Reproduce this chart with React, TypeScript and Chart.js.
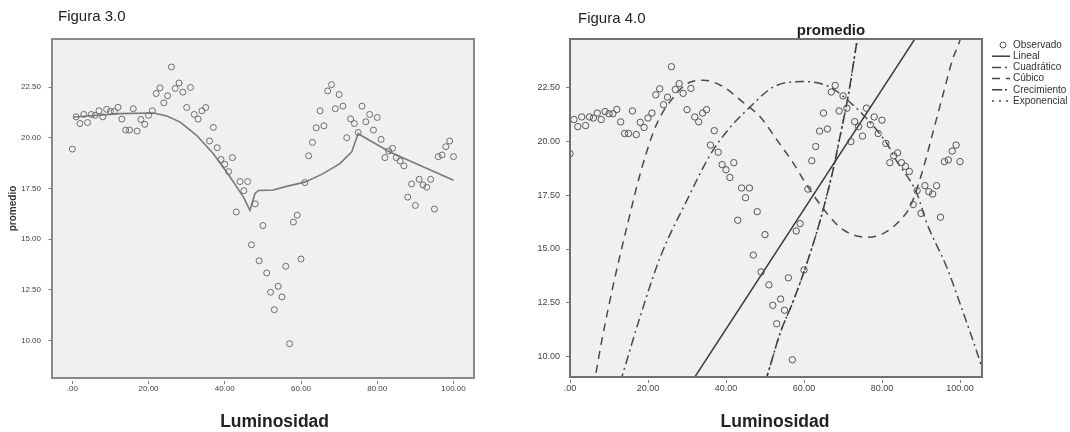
import React, { useEffect, useRef } from 'react';
import { Chart, registerables } from 'chart.js';

Chart.register(...registerables);

const FONT = '"Liberation Sans", Arial, Helvetica, sans-serif';
Chart.defaults.font.family = FONT;

// ---------- data ----------
const luminosidad = [
  0, 1, 2, 3, 4, 5, 6, 7, 8, 9, 10, 11, 12, 13, 14, 15, 16, 17, 18, 19,
  20, 21, 22, 23, 24, 25, 26, 27, 28, 29, 30, 31, 32, 33, 34, 35, 36, 37, 38, 39,
  40, 41, 42, 43, 44, 45, 46, 47, 48, 49, 50, 51, 52, 53, 54, 55, 56, 57, 58, 59,
  60, 61, 62, 63, 64, 65, 66, 67, 68, 69, 70, 71, 72, 73, 74, 75, 76, 77, 78, 79,
  80, 81, 82, 83, 84, 85, 86, 87, 88, 89, 90, 91, 92, 93, 94, 95, 96, 97, 98, 99, 100,
];
const promedio = [
  19.44, 21.03, 20.7, 21.15, 20.75, 21.15, 21.1, 21.33, 21.03, 21.4,
  21.3, 21.3, 21.5, 20.92, 20.38, 20.38, 21.43, 20.33, 20.9, 20.66,
  21.1, 21.33, 22.18, 22.46, 21.72, 22.07, 23.49, 22.43, 22.7, 22.25,
  21.49, 22.48, 21.15, 20.92, 21.33, 21.49, 19.84, 20.51, 19.51, 18.93,
  18.69, 18.33, 19.02, 16.34, 17.84, 17.39, 17.84, 14.72, 16.74, 13.93,
  15.67, 13.33, 12.38, 11.52, 12.67, 12.15, 13.66, 9.84, 15.84, 16.18,
  14.02, 17.79, 19.11, 19.77, 20.49, 21.33, 20.59, 22.31, 22.62, 21.43,
  22.13, 21.56, 20.0, 20.93, 20.7, 20.26, 21.56, 20.79, 21.15, 20.38,
  21.0, 19.92, 19.02, 19.34, 19.48, 19.02, 18.85, 18.61, 17.07, 17.72,
  16.66, 17.95, 17.67, 17.56, 17.95, 16.48, 19.07, 19.15, 19.56, 19.84, 19.07,
];

// Figura 3.0 smoothed line
const suavizadoX = [0.3, 6, 12.5, 21.3, 24.8, 28.3, 32.6, 37, 41.4, 44.9, 46.6, 47.9, 48.8, 52.7, 56.2, 61, 65.8, 70.2, 73.3, 74.2, 75.0, 83.3, 100];
const suavizadoY = [21.02, 21.1, 21.19, 21.22, 21.07, 20.77, 20.12, 19.21, 18.06, 17.07, 16.42, 17.24, 17.4, 17.42, 17.6, 17.81, 18.23, 18.72, 19.3, 19.79, 20.2, 19.3, 17.9];

// Figura 4.0 fitted curves
const linealX = [30, 90];
const linealY = [8.48, 25.22];
const cuadraticoX = [12.9, 13.35, 18.0, 23.2, 30.0, 36.0, 40.3, 46.2, 52.2, 59.6, 66.6, 72.3, 74.9, 78.7, 81.3, 83.4, 88.9, 91.5, 96.6, 100.9, 105.4, 106.2];
const cuadraticoY = [8.8, 9.07, 11.86, 14.65, 17.28, 19.4, 20.5, 21.62, 22.55, 22.8, 22.55, 21.75, 21.3, 20.53, 19.9, 19.2, 17.6, 16.2, 14.15, 12.0, 9.6, 9.1];
const cubicoX = [6.0, 6.5, 8.2, 11.2, 14.6, 18.5, 22.3, 26.6, 30.0, 34.3, 39.4, 43.7, 48.8, 53.1, 57.3, 60.8, 65.9, 70.1, 76.1, 80.4, 84.7, 87.2, 90.2, 93.2, 95.8, 98.3, 99.6, 101.0];
const cubicoY = [8.6, 9.07, 10.78, 13.41, 16.04, 18.83, 20.85, 22.08, 22.7, 22.86, 22.55, 21.93, 21.15, 20.07, 18.99, 17.95, 16.66, 15.89, 15.55, 15.73, 16.35, 16.97, 18.52, 20.53, 22.3, 23.95, 24.5, 25.4];
const crecimientoX = [50.0, 50.5, 53.9, 57.3, 60.3, 63.3, 65.0, 67.6, 69.3, 71.4, 73.7, 74.1];
const crecimientoY = [8.8, 9.07, 11.09, 12.6, 14.1, 15.8, 16.9, 18.8, 20.3, 22.2, 24.8, 25.2];
const exponencialX = [50.0, 50.5, 53.9, 57.3, 60.3, 63.3, 65.0, 67.6, 69.3, 71.4, 73.7, 74.1];
const exponencialY = [8.8, 9.07, 11.09, 12.6, 14.1, 15.8, 16.9, 18.8, 20.3, 22.2, 24.8, 25.2];

const xTickValues = [0, 20, 40, 60, 80, 100];
const xTickLabels = ['.00', '20.00', '40.00', '60.00', '80.00', '100.00'];
const yTickValues = [10, 12.5, 15, 17.5, 20, 22.5];
const yTickLabels = ['10.00', '12.50', '15.00', '17.50', '20.00', '22.50'];

const legendLabels = ['Observado', 'Lineal', 'Cuadrático', 'Cúbico', 'Crecimiento', 'Exponencial'];

// ---------- helpers ----------
const pts = (xs: number[], ys: number[]) => xs.map((x, i) => ({ x, y: ys[i] }));
const labelFor = (v: number, vals: number[], labels: string[]) => {
  const i = vals.findIndex((t) => Math.abs(t - v) < 1e-6);
  return i >= 0 ? labels[i] : '';
};

type ScaleCfg = {
  xMin: number; xMax: number; yMin: number; yMax: number;
  yAxisWidth: number; xAxisHeight: number; tickFont: number;
  yTickLen: number; yDash: number; yGap: number;
  yTitle?: string;
};

function makeScales(c: ScaleCfg): any {
  return {
    x: {
      type: 'linear',
      min: c.xMin,
      max: c.xMax,
      afterBuildTicks: (s: any) => { s.ticks = xTickValues.map((v) => ({ value: v })); },
      afterFit: (s: any) => { s.height = c.xAxisHeight; },
      ticks: {
        callback: (v: any) => labelFor(Number(v), xTickValues, xTickLabels),
        font: { size: c.tickFont },
        color: '#444',
        padding: 0,
        maxRotation: 0,
        autoSkip: false,
      },
      grid: {
        drawOnChartArea: false,
        drawTicks: true,
        tickLength: 6,
        tickBorderDash: [3, 3],
        tickBorderDashOffset: 3,
        tickColor: '#808080',
        tickWidth: 1,
      },
      border: { display: false },
    },
    y: {
      type: 'linear',
      min: c.yMin,
      max: c.yMax,
      afterBuildTicks: (s: any) => { s.ticks = yTickValues.map((v) => ({ value: v })); },
      afterFit: (s: any) => { s.width = c.yAxisWidth; },
      ticks: {
        callback: (v: any) => labelFor(Number(v), yTickValues, yTickLabels),
        font: { size: c.tickFont },
        color: '#444',
        padding: 1,
        autoSkip: false,
      },
      grid: {
        drawOnChartArea: false,
        drawTicks: true,
        tickLength: c.yTickLen,
        tickBorderDash: [c.yDash, c.yGap],
        tickBorderDashOffset: c.yDash,
        tickColor: '#808080',
        tickWidth: 1,
      },
      border: { display: false },
      title: c.yTitle
        ? { display: true, text: c.yTitle, font: { size: 10, weight: 'bold' }, color: '#333', padding: { top: 7, bottom: 0 } }
        : { display: false },
    },
  };
}

const framePlugin = (color: string, width: number) => ({
  id: 'frame',
  beforeDraw(chart: any) {
    const { ctx, chartArea } = chart;
    ctx.save();
    ctx.fillStyle = '#f0f0f0';
    ctx.fillRect(chartArea.left, chartArea.top, chartArea.width, chartArea.height);
    ctx.restore();
  },
  afterDatasetsDraw(chart: any) {
    const { ctx, chartArea } = chart;
    ctx.save();
    ctx.strokeStyle = color;
    ctx.lineWidth = width;
    ctx.strokeRect(chartArea.left, chartArea.top, chartArea.width, chartArea.height);
    ctx.restore();
  },
});

const sideLegendPlugin = {
  id: 'sideLegend',
  afterDraw(chart: any) {
    const { ctx, chartArea } = chart;
    const bx = chartArea.right;
    ctx.save();
    ctx.font = `10px ${FONT}`;
    ctx.textBaseline = 'middle';
    ctx.textAlign = 'left';
    chart.data.datasets.forEach((ds: any, i: number) => {
      const y = 45 + i * 11.2;
      if (i === 0) {
        ctx.setLineDash([]);
        ctx.strokeStyle = ds.pointBorderColor;
        ctx.lineWidth = 1;
        ctx.beginPath();
        ctx.arc(bx + 21, y, 3, 0, Math.PI * 2);
        ctx.stroke();
      } else {
        ctx.setLineDash(ds.borderDash || []);
        ctx.strokeStyle = ds.borderColor;
        ctx.lineWidth = 1.5;
        ctx.beginPath();
        ctx.moveTo(bx + 10, y);
        ctx.lineTo(bx + 28, y);
        ctx.stroke();
        ctx.setLineDash([]);
      }
      ctx.fillStyle = '#333';
      ctx.fillText(legendLabels[i], bx + 31, y);
    });
    ctx.restore();
  },
};

export default function App() {
  const leftRef = useRef<HTMLCanvasElement | null>(null);
  const rightRef = useRef<HTMLCanvasElement | null>(null);

  useEffect(() => {
    if (!leftRef.current || !rightRef.current) return;

    const left = new Chart(leftRef.current, {
      type: 'scatter',
      data: {
        datasets: [
          {
            type: 'scatter',
            label: 'Observado',
            data: pts(luminosidad, promedio),
            pointRadius: 3,
            pointBorderWidth: 1,
            pointBorderColor: '#6e6e6e',
            pointBackgroundColor: 'rgba(0,0,0,0)',
            showLine: false,
          } as any,
          {
            type: 'line',
            label: 'Suavizado',
            data: pts(suavizadoX, suavizadoY),
            borderColor: '#7a7a7a',
            borderWidth: 1.6,
            pointRadius: 0,
            tension: 0,
            fill: false,
          } as any,
        ],
      },
      options: {
        responsive: true,
        maintainAspectRatio: false,
        animation: false,
        events: [],
        layout: { padding: { left: 0, right: 56, top: 39, bottom: 0 } },
        plugins: { legend: { display: false }, tooltip: { enabled: false }, title: { display: false } },
        scales: makeScales({
          xMin: -5.33, xMax: 105.38, yMin: 8.15, yMax: 24.87,
          yAxisWidth: 52, xAxisHeight: 54, tickFont: 8,
          yTickLen: 10, yDash: 3.5, yGap: 6.5, yTitle: 'promedio',
        }),
      } as any,
      plugins: [framePlugin('#8a8a8a', 2)],
    });

    const curveStyle = { pointRadius: 0, fill: false, borderWidth: 1.5, cubicInterpolationMode: 'monotone' as const };
    const right = new Chart(rightRef.current, {
      type: 'scatter',
      data: {
        datasets: [
          {
            type: 'scatter',
            label: legendLabels[0],
            data: pts(luminosidad, promedio),
            pointRadius: 3.2,
            pointBorderWidth: 1,
            pointBorderColor: '#555555',
            pointBackgroundColor: 'rgba(0,0,0,0)',
            showLine: false,
            clip: 0,
          } as any,
          { type: 'line', label: legendLabels[1], data: pts(linealX, linealY), borderColor: '#3a3a3a', borderDash: [], ...curveStyle } as any,
          { type: 'line', label: legendLabels[2], data: pts(cuadraticoX, cuadraticoY), borderColor: '#4a4a4a', borderDash: [9, 4, 2, 4], ...curveStyle } as any,
          { type: 'line', label: legendLabels[3], data: pts(cubicoX, cubicoY), borderColor: '#4a4a4a', borderDash: [8, 6], ...curveStyle } as any,
          { type: 'line', label: legendLabels[4], data: pts(crecimientoX, crecimientoY), borderColor: '#3a3a3a', borderDash: [10, 3, 2, 3], ...curveStyle } as any,
          { type: 'line', label: legendLabels[5], data: pts(exponencialX, exponencialY), borderColor: '#4a4a4a', borderDash: [2, 5], ...curveStyle } as any,
        ],
      },
      options: {
        responsive: true,
        maintainAspectRatio: false,
        animation: false,
        events: [],
        layout: { padding: { left: 0, right: 88, top: 39, bottom: 0 } },
        plugins: { legend: { display: false }, tooltip: { enabled: false }, title: { display: false } },
        scales: makeScales({
          xMin: 0, xMax: 105.64, yMin: 9.04, yMax: 24.78,
          yAxisWidth: 40, xAxisHeight: 55, tickFont: 9,
          yTickLen: 9, yDash: 4, yGap: 5,
        }),
      } as any,
      plugins: [framePlugin('#707070', 2), sideLegendPlugin],
    });

    return () => {
      left.destroy();
      right.destroy();
    };
  }, []);

  const txt = (extra: React.CSSProperties): React.CSSProperties => ({
    position: 'absolute',
    whiteSpace: 'nowrap',
    lineHeight: 1,
    color: '#222',
    fontFamily: FONT,
    ...extra,
  });

  return (
    <div style={{ position: 'absolute', left: 0, top: 0, width: 1070, height: 432, background: '#ffffff', overflow: 'hidden' }}>
      <div style={{ position: 'absolute', left: 0, top: 0, width: 530, height: 432 }}>
        <canvas ref={leftRef} />
      </div>
      <div style={{ position: 'absolute', left: 530, top: 0, width: 540, height: 432 }}>
        <canvas ref={rightRef} />
      </div>
      <div style={txt({ left: 58, top: 15, fontSize: 15, transform: 'translateY(-50%)' })}>Figura 3.0</div>
      <div style={txt({ left: 578, top: 17, fontSize: 15, transform: 'translateY(-50%)' })}>Figura 4.0</div>
      <div style={txt({ left: 831, top: 29, fontSize: 15, fontWeight: 'bold', transform: 'translate(-50%, -50%)' })}>promedio</div>
      <div style={txt({ left: 274.6, top: 422, fontSize: 17.5, fontWeight: 'bold', transform: 'translate(-50%, -50%)' })}>Luminosidad</div>
      <div style={txt({ left: 775, top: 422, fontSize: 17.5, fontWeight: 'bold', transform: 'translate(-50%, -50%)' })}>Luminosidad</div>
    </div>
  );
}
